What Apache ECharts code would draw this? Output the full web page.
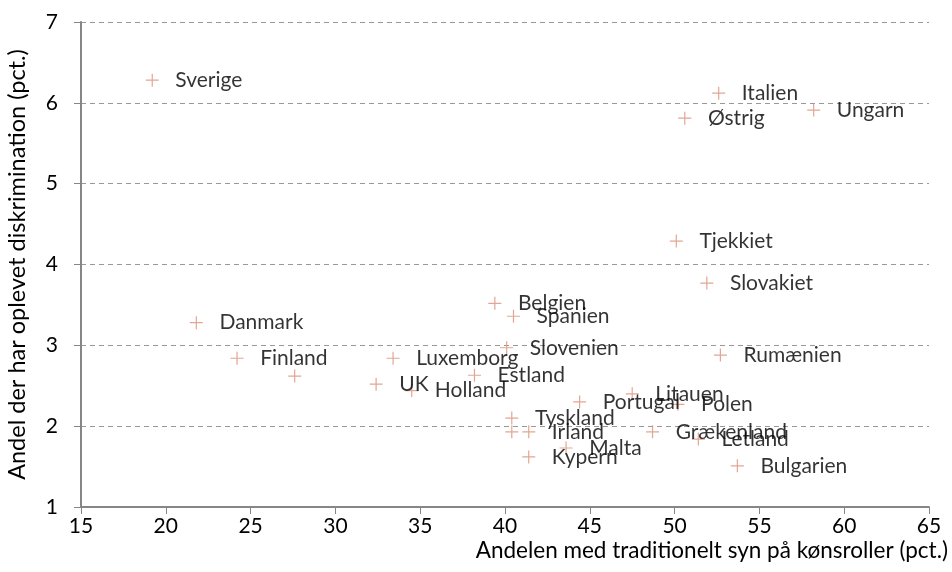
<!DOCTYPE html>
<html>
<head>
<meta charset="utf-8">
<script src="https://cdn.jsdelivr.net/npm/echarts@6/dist/echarts.min.js"></script>
<style>
  html, body { margin: 0; padding: 0; background: #fff; }
  #chart { width: 952px; height: 572px; }
</style>
</head>
<body>
<div id="chart"></div>
<script>
// lande og værdier
let countries = ["Sverige", "Danmark", "Finland", "", "UK", "Luxemborg", "Holland", "Estland",
	"Belgien", "Spanien", "Slovenien", "Tyskland", "", "Irland", "Kypern", "Malta",
	"Portugal", "Litauen", "Polen", "Grækenland", "Letland", "Bulgarien", "Rumænien",
	"Slovakiet", "Tjekkiet", "Østrig", "Italien", "Ungarn"];
let tradition = [19.2, 21.8, 24.2, 27.6, 32.4, 33.4, 34.5, 38.2,
	39.4, 40.5, 40.1, 40.4, 40.4, 41.4, 41.4, 43.6,
	44.4, 47.5, 50.2, 48.7, 51.4, 53.7, 52.7,
	51.9, 50.1, 50.6, 52.6, 58.2];
let diskrimination = [6.28, 3.28, 2.84, 2.62, 2.52, 2.84, 2.44, 2.63,
	3.52, 3.36, 2.97, 2.10, 1.93, 1.93, 1.62, 1.73,
	2.30, 2.40, 2.27, 1.93, 1.84, 1.51, 2.88,
	3.77, 4.29, 5.81, 6.12, 5.91];

let points = countries.map(function (c, i) {
	return { name: c, value: [tradition[i], diskrimination[i]] };
});

let chart = echarts.init(document.getElementById("chart"));
let axisGray = "#868686";
let font = "Lato, 'Noto Sans', sans-serif";

chart.setOption({
	animation: false,
	textStyle: { fontFamily: font },
	grid: { left: 81, right: 23, top: 22, bottom: 65, outerBoundsMode: "none" },
	xAxis: {
		type: "value",
		min: 15,
		max: 65,
		interval: 5,
		name: "Andelen med traditionelt syn på kønsroller (pct.)",
		nameLocation: "end",
		nameGap: 19,
		nameTextStyle: {
			align: "right",
			verticalAlign: "top",
			fontSize: 22.5,
			color: "#000",
			fontFamily: font,
			padding: [32, 0, 0, 0]
		},
		axisLine: { show: true, onZero: false, lineStyle: { color: axisGray, width: 2 } },
		axisTick: { show: true, length: 7, lineStyle: { color: axisGray, width: 1 } },
		axisLabel: { fontSize: 21, color: "#000", margin: 9, fontFamily: font },
		splitLine: { show: false }
	},
	yAxis: {
		type: "value",
		min: 1,
		max: 7,
		interval: 1,
		name: "Andel der har oplevet diskrimination (pct.)",
		nameLocation: "middle",
		nameGap: 52,
		nameTextStyle: { fontSize: 23.5, color: "#000", fontFamily: font },
		axisLine: { show: true, onZero: false, lineStyle: { color: axisGray, width: 2 } },
		axisTick: { show: true, length: 7, lineStyle: { color: axisGray, width: 1 } },
		axisLabel: { fontSize: 21, color: "#000", margin: 23, fontFamily: font },
		splitLine: { show: true, lineStyle: { color: "#999", type: [5, 4], width: 1 } }
	},
	series: [{
		type: "scatter",
		data: points,
		symbol: "path://M0,5L10,5M5,0L5,10",
		symbolSize: 13,
		itemStyle: { color: "transparent", borderColor: "#DB9078", borderWidth: 1.2 },
		label: {
			show: true,
			position: "right",
			distance: 16,
			formatter: "{b}",
			fontSize: 21,
			color: "#000",
			fontFamily: font
		},
		emphasis: { disabled: true }
	}]
});
</script>
</body>
</html>
